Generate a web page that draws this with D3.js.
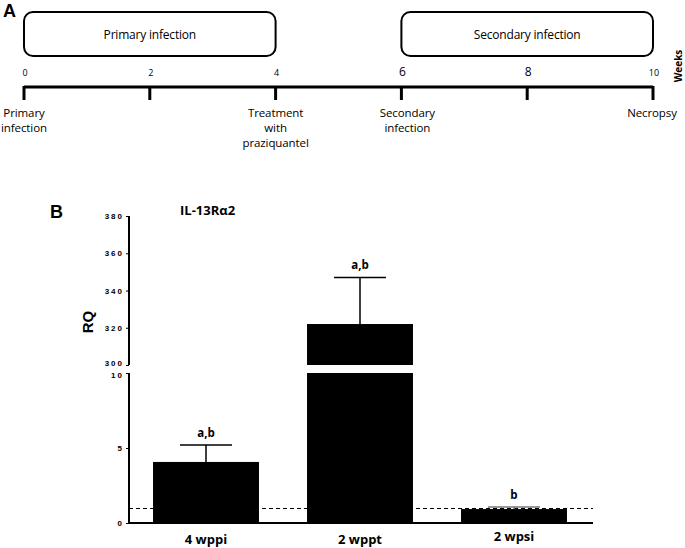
<!DOCTYPE html>
<html><head><meta charset="utf-8">
<script src="https://cdn.jsdelivr.net/npm/d3@7"></script>
<style>body{margin:0;background:#fff}</style>
</head><body>
<svg id="c" width="685" height="548"></svg>
<script>
// ---- Panel A: timeline data ----
const weekTicks = [0, 2, 4, 6, 8, 10];
const phaseNames = ["Primary infection", "Secondary infection"];
const phaseStart = [0, 6];
const phaseEnd = [4, 10];
const eventWeeks = [0, 4, 6, 10];
const eventLabels = [["Primary", "infection"], ["Treatment", "with", "praziquantel"], ["Secondary", "infection"], ["Necropsy"]];

// ---- Panel B: bar data ----
const categories = ["4 wppi", "2 wppt", "2 wpsi"];
const means = [4.07, 322, 0.93];
const errUpper = [5.2, 347, 1.07];
const sigLabels = ["a,b", "a,b", "b"];
const lowerTicks = [0, 5, 10];
const upperTicks = [300, 320, 340, 360, 380];
const refLine = 1;

const svg = d3.select("#c");
const fTxt = "'Open Sans', sans-serif";
const fAx = "'Liberation Sans', Arial, sans-serif";

// ===== Panel A =====
svg.append("text").attr("x", 3).attr("y", 17).text("A")
  .attr("font-family", fAx).attr("font-weight", "bold").attr("font-size", 18);

const xt = d3.scaleLinear().domain([0, 10]).range([24, 653]);
const gA = svg.append("g");
phaseNames.forEach((n, i) => {
  gA.append("rect").attr("x", xt(phaseStart[i])).attr("y", 12)
    .attr("width", xt(phaseEnd[i]) - xt(phaseStart[i])).attr("height", 44)
    .attr("rx", 9).attr("fill", "#fff").attr("stroke", "#000").attr("stroke-width", 2);
  gA.append("text").attr("x", (xt(phaseStart[i]) + xt(phaseEnd[i])) / 2).attr("y", 39)
    .attr("text-anchor", "middle").attr("font-family", fTxt).attr("font-size", 12)
    .attr("letter-spacing", -0.2).text(n);
});
gA.append("line").attr("x1", xt(0)).attr("x2", xt(10)).attr("y1", 87).attr("y2", 87)
  .attr("stroke", "#000").attr("stroke-width", 3);
weekTicks.forEach(w => {
  gA.append("line").attr("x1", xt(w)).attr("x2", xt(w)).attr("y1", 86).attr("y2", 100)
    .attr("stroke", "#000").attr("stroke-width", 3);
  const big = (w === 6 || w === 8);
  gA.append("text").attr("x", xt(w) + 1).attr("y", 76).attr("text-anchor", "middle")
    .attr("font-family", fTxt).attr("font-size", big ? 12 : 9).text(w);
});
eventWeeks.forEach((w, i) => {
  const lines = eventLabels[i];
  let cx = xt(w);
  if (w === 6) cx += 6;
  if (w === 10) cx -= 1;
  const t = gA.append("text").attr("text-anchor", "middle")
    .attr("font-family", fTxt).attr("font-size", 11.5).attr("letter-spacing", -0.1);
  lines.forEach((l, j) => {
    t.append("tspan").attr("x", cx).attr("y", 117 + j * 15).text(l);
  });
});
gA.append("text").attr("transform", "translate(682,66) rotate(-90)")
  .attr("text-anchor", "middle").attr("font-family", fTxt).attr("font-weight", "bold")
  .attr("font-size", 10).text("Weeks");

// ===== Panel B =====
svg.append("text").attr("x", 50).attr("y", 218).text("B")
  .attr("font-family", fAx).attr("font-weight", "bold").attr("font-size", 18);
svg.append("text").attr("x", 180).attr("y", 215).text("IL-13R\u03B12")
  .attr("font-family", fTxt).attr("font-weight", "bold").attr("font-size", 13);
svg.append("text").attr("transform", "translate(93,322) rotate(-90)")
  .attr("text-anchor", "middle").attr("font-family", fAx).attr("font-weight", "bold")
  .attr("font-size", 15).text("RQ");

const axX = 129;
const yLo = d3.scaleLinear().domain([0, 10]).range([523, 373]);
const yHi = d3.scaleLinear().domain([300, 380]).range([365, 216]);
const xb = d3.scaleBand().domain(categories).range([axX, 591]).paddingInner(0.312).paddingOuter(0.156);

// reference dashed line
const yRef = Math.round(yLo(refLine)) + 0.5;
svg.append("line").attr("x1", axX).attr("x2", 593).attr("y1", yRef).attr("y2", yRef)
  .attr("stroke", "#000").attr("stroke-width", 1).attr("stroke-dasharray", "4,3");

const gB = svg.append("g");
categories.forEach((c, i) => {
  const x0 = xb(c), w = xb.bandwidth(), cx = x0 + w / 2;
  const v = means[i];
  if (v <= 10) {
    gB.append("rect").attr("x", x0).attr("y", yLo(v)).attr("width", w).attr("height", yLo(0) - yLo(v)).attr("fill", "#000");
  } else {
    gB.append("rect").attr("x", x0).attr("y", yLo(10)).attr("width", w).attr("height", yLo(0) - yLo(10)).attr("fill", "#000");
    gB.append("rect").attr("x", x0).attr("y", yHi(v)).attr("width", w).attr("height", yHi(300) - yHi(v)).attr("fill", "#000");
  }
  const ys = v <= 10 ? yLo : yHi;
  const eTop = ys(errUpper[i]);
  const col = i === 2 ? "#777" : "#000";
  gB.append("line").attr("x1", cx).attr("x2", cx).attr("y1", ys(v)).attr("y2", eTop).attr("stroke", col).attr("stroke-width", 1.5);
  gB.append("line").attr("x1", cx - 26).attr("x2", cx + 26).attr("y1", eTop).attr("y2", eTop).attr("stroke", col).attr("stroke-width", 1.5);
  gB.append("text").attr("x", cx).attr("y", eTop - 8).attr("text-anchor", "middle")
    .attr("font-family", fTxt).attr("font-weight", "bold").attr("font-size", 11.5).text(sigLabels[i]);
  gB.append("text").attr("x", cx).attr("y", i === 2 ? 541 : 544).attr("text-anchor", "middle")
    .attr("font-family", fTxt).attr("font-weight", "bold").attr("font-size", 13).text(c);
});

// axes
const axLo = d3.axisLeft(yLo).tickValues(lowerTicks).tickSize(3).tickPadding(2);
const axHi = d3.axisLeft(yHi).tickValues(upperTicks).tickSize(3).tickPadding(2);
function styleAxis(g) {
  g.select(".domain").remove();
  g.selectAll(".tick line").attr("stroke", "#000").attr("stroke-width", 1);
  g.selectAll(".tick text").attr("font-family", fAx).attr("font-weight", "bold")
    .attr("font-size", 8).attr("letter-spacing", 2).attr("fill", "#000");
}
const gLo = svg.append("g").attr("transform", `translate(${axX},0)`).call(axLo).call(styleAxis);
const gHi = svg.append("g").attr("transform", `translate(${axX},0)`).call(axHi).call(styleAxis);
// nudge the two labels at the axis break apart
gLo.selectAll(".tick text").filter(d => d === 10).attr("dy", "0.55em");
gHi.selectAll(".tick text").filter(d => d === 300).attr("dy", "0.1em");
svg.append("line").attr("x1", axX).attr("x2", axX).attr("y1", yLo(10)).attr("y2", yLo(0) + 1).attr("stroke", "#000").attr("stroke-width", 2);
svg.append("line").attr("x1", axX).attr("x2", axX).attr("y1", yHi(380)).attr("y2", yHi(300)).attr("stroke", "#000").attr("stroke-width", 2);
svg.append("line").attr("x1", axX - 1).attr("x2", 593).attr("y1", yLo(0)).attr("y2", yLo(0)).attr("stroke", "#000").attr("stroke-width", 2);
</script>
</body></html>
